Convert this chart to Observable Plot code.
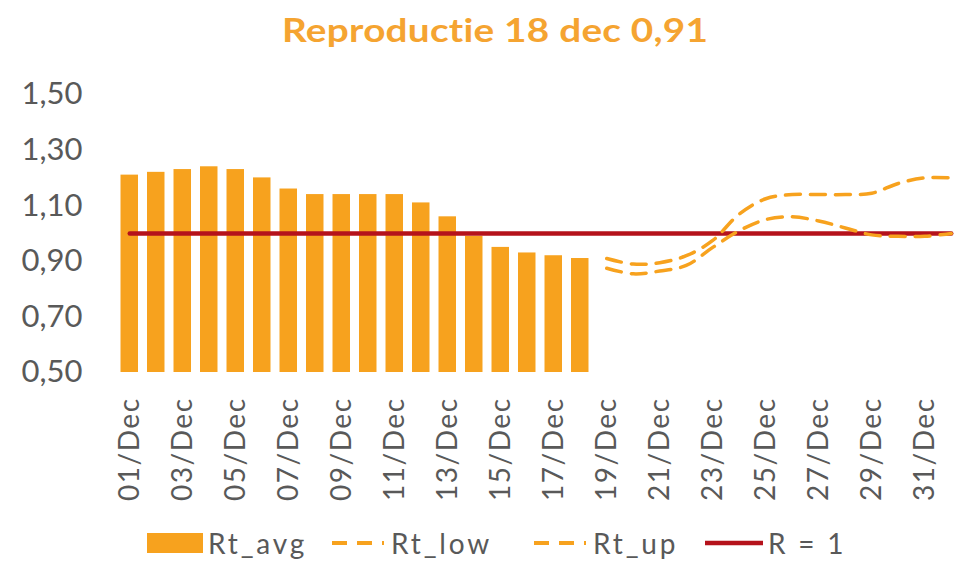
<!DOCTYPE html>
<html>
<head>
<meta charset="utf-8">
<script src="https://cdn.jsdelivr.net/npm/d3@7"></script>
<script src="https://cdn.jsdelivr.net/npm/@observablehq/plot@0.6"></script>
<style>
  html, body { margin: 0; padding: 0; background: #fff; overflow: hidden; }
  body { width: 956px; height: 563px; font-family: Lato, "Open Sans", sans-serif; }
  #title { height: 62px; display: flex; align-items: center; justify-content: center; padding-left: 34px; box-sizing: border-box;
           font-family: Lato, sans-serif; font-weight: 700; font-size: 32px; color: #f5a431; }
  #title span { display: inline-block; transform: scaleX(1.21); margin-top: -4px; letter-spacing: 0.2px; }
  #legend { height: 41px; font-size: 28px; letter-spacing: 2.8px; color: #595959; position: relative; }
  #legend .item { position: absolute; display: flex; align-items: center; top: 4px; }
  g[aria-label="x-axis tick label"] text { letter-spacing: 1.5px; }
</style>
</head>
<body>
<div id="title"><span>Reproductie 18 dec 0,91</span></div>
<div id="chart"></div>
<div id="legend"></div>
<script>
const days = ["01/Dec","02/Dec","03/Dec","04/Dec","05/Dec","06/Dec","07/Dec","08/Dec","09/Dec","10/Dec",
  "11/Dec","12/Dec","13/Dec","14/Dec","15/Dec","16/Dec","17/Dec","18/Dec","19/Dec","20/Dec",
  "21/Dec","22/Dec","23/Dec","24/Dec","25/Dec","26/Dec","27/Dec","28/Dec","29/Dec","30/Dec","31/Dec","01/Jan"];
const avgDays = days.slice(0, 18);
const rtAvg = [1.21, 1.22, 1.23, 1.24, 1.23, 1.20, 1.16, 1.14, 1.14, 1.14, 1.14, 1.11, 1.06, 0.99, 0.95, 0.93, 0.92, 0.91];
const boundDays = days.slice(18);
const rtLow = [0.875, 0.855, 0.865, 0.885, 0.95, 1.01, 1.05, 1.06, 1.045, 1.02, 0.995, 0.99, 0.99, 1.0];
const rtUp  = [0.91, 0.89, 0.895, 0.92, 0.975, 1.07, 1.125, 1.14, 1.14, 1.14, 1.145, 1.18, 1.20, 1.20];
const yTicks = [0.5, 0.7, 0.9, 1.1, 1.3, 1.5];
const rOne = 1;

const orange = "#f7a21e";
const red = "#b5121b";
const grey = "#595959";

const bars = avgDays.map((d, i) => ({day: d, v: rtAvg[i]}));
const low = boundDays.map((d, i) => ({day: d, v: rtLow[i]}));
const up = boundDays.map((d, i) => ({day: d, v: rtUp[i]}));
const ref = days.map(d => ({day: d, v: rOne}));

const chart = Plot.plot({
  width: 956,
  height: 460,
  marginTop: 32,
  marginBottom: 150,
  marginLeft: 116,
  marginRight: 0,
  style: {fontFamily: "Lato, sans-serif", color: grey, background: "transparent", overflow: "visible"},
  x: {type: "band", domain: days, range: [116, 964], round: false, paddingInner: 0.34, paddingOuter: 0.17, label: null},
  y: {domain: [0.5, 1.5], label: null},
  marks: [
    Plot.gridY(yTicks, {stroke: "#d9d9d9", strokeOpacity: 1, strokeWidth: 1.5, x1: 116, x2: 956}),
    Plot.axisY(yTicks, {tickSize: 0, tickPadding: 34, fontSize: 31, fill: grey,
      tickFormat: d => d.toFixed(2).replace(".", ",")}),
    Plot.axisX(days.filter((d, i) => i % 2 === 0), {tickSize: 0, tickPadding: 25, tickRotate: -90,
      fontSize: 28, fill: grey}),
    Plot.barY(bars, {x: "day", y1: 0.5, y2: "v", fill: orange}),
    Plot.line(ref, {x: "day", y: "v", stroke: red, strokeWidth: 4.5}),
    Plot.line(low, {x: "day", y: "v", stroke: orange, strokeWidth: 3.5, strokeDasharray: "15,10", curve: "catmull-rom"}),
    Plot.line(up, {x: "day", y: "v", stroke: orange, strokeWidth: 3.5, strokeDasharray: "15,10", curve: "catmull-rom"})
  ]
});
document.getElementById("chart").appendChild(chart);

const legendItems = [
  {x: 147, label: "Rt_avg", swatch: `<svg width="56" height="20"><rect x="0" y="0" width="56" height="20" fill="${orange}"/></svg>`},
  {x: 330, label: "Rt_low", swatch: `<svg width="56" height="22"><line x1="2" y1="11" x2="54" y2="11" stroke="${orange}" stroke-width="4" stroke-dasharray="15,10"/></svg>`},
  {x: 532, label: "Rt_up", swatch: `<svg width="56" height="22"><line x1="2" y1="11" x2="54" y2="11" stroke="${orange}" stroke-width="4" stroke-dasharray="15,10"/></svg>`},
  {x: 705, label: "R = 1", swatch: `<svg width="58" height="22"><line x1="0" y1="11" x2="58" y2="11" stroke="${red}" stroke-width="4.5"/></svg>`}
];
const leg = document.getElementById("legend");
for (const it of legendItems) {
  const el = document.createElement("div");
  el.className = "item";
  el.style.left = it.x + "px";
  el.innerHTML = it.swatch + `<span style="margin-left:5px">${it.label}</span>`;
  leg.appendChild(el);
}
</script>
</body>
</html>
